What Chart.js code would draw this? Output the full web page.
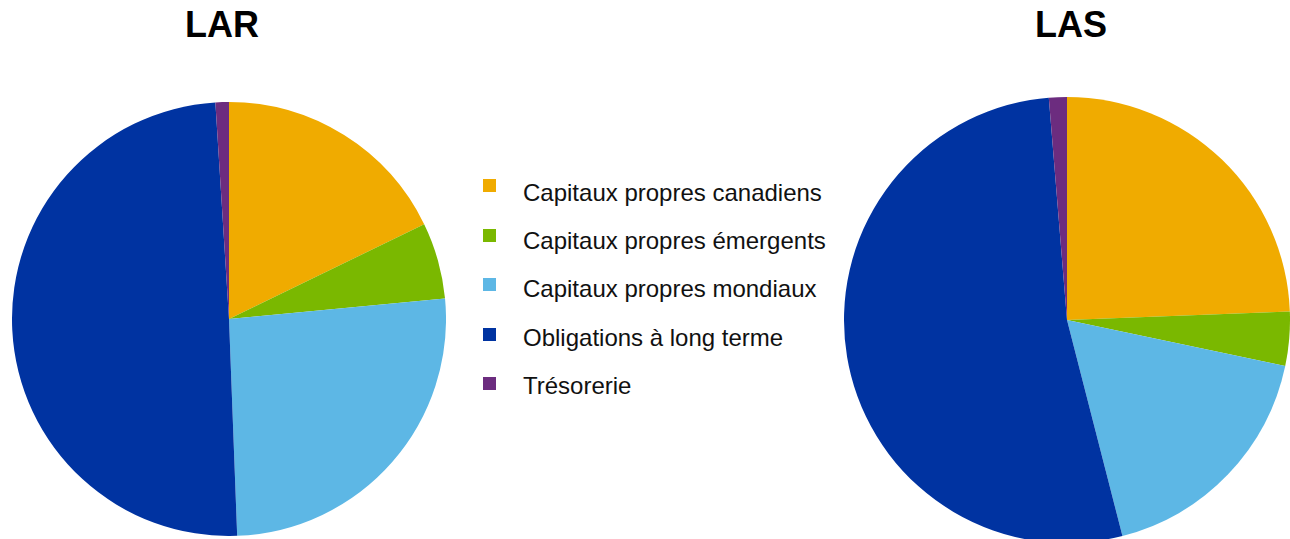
<!DOCTYPE html>
<html>
<head>
<meta charset="utf-8">
<script src="https://cdn.jsdelivr.net/npm/chart.js@4.4.1/dist/chart.umd.min.js"></script>
<style>
    html, body { margin: 0; padding: 0; background: #fff; overflow: hidden; }
    body { width: 1290px; height: 539px; position: relative; font-family: "Liberation Sans", Arial, sans-serif; }
    .pie-box { position: absolute; top: 0; }
    .pie-title { position: absolute; top: 3px; width: 200px; margin-left: -100px; text-align: center;
                 font-size: 36px; font-weight: bold; line-height: 43px; color: #000; }
    .legend-swatch { position: absolute; left: 483px; width: 13px; height: 13px; }
    .legend-text { position: absolute; left: 523px; font-size: 24px; line-height: 24px; color: #111; white-space: nowrap; }
</style>
</head>
<body>

<div class="pie-title" style="left:222px;">LAR</div>
<div class="pie-title" style="left:1071px;">LAS</div>
<div class="pie-box" style="left:12px; width:434px; height:536px;"><canvas id="chart-lar"></canvas></div>
<div class="pie-box" style="left:844px; width:446px; height:543px;"><canvas id="chart-las"></canvas></div>
<div id="legend"></div>

<script>
// Asset classes and their colours
const categories = [
    'Capitaux propres canadiens',
    'Capitaux propres émergents',
    'Capitaux propres mondiaux',
    'Obligations à long terme',
    'Trésorerie'
];
const colors = ['#F0AB00', '#7AB800', '#5DB7E5', '#0033A1', '#6C2C7F'];

// Allocation (%)
const larValues = [17.8, 5.7, 25.9, 49.6, 1.0];
const lasValues = [24.4, 3.9, 17.7, 52.7, 1.3];

function makePie(canvasId, values, padTop) {
    return new Chart(document.getElementById(canvasId), {
        type: 'pie',
        data: {
            labels: categories,
            datasets: [{
                data: values,
                backgroundColor: colors,
                borderWidth: 0
            }]
        },
        options: {
            responsive: true,
            maintainAspectRatio: false,
            animation: false,
            layout: { padding: { top: padTop } },
            plugins: {
                legend: { display: false },
                tooltip: { enabled: false }
            }
        }
    });
}

makePie('chart-lar', larValues, 102);
makePie('chart-las', lasValues, 97);

// Shared legend between the two pies, built from the same arrays
const legend = document.getElementById('legend');
categories.forEach((name, i) => {
    const swatch = document.createElement('div');
    swatch.className = 'legend-swatch';
    swatch.style.background = colors[i];
    swatch.style.top = (179 + i * 49.5) + 'px';
    legend.appendChild(swatch);

    const text = document.createElement('div');
    text.className = 'legend-text';
    text.style.top = (181 + i * 48.2) + 'px';
    text.textContent = name;
    legend.appendChild(text);
});
</script>
</body>
</html>
